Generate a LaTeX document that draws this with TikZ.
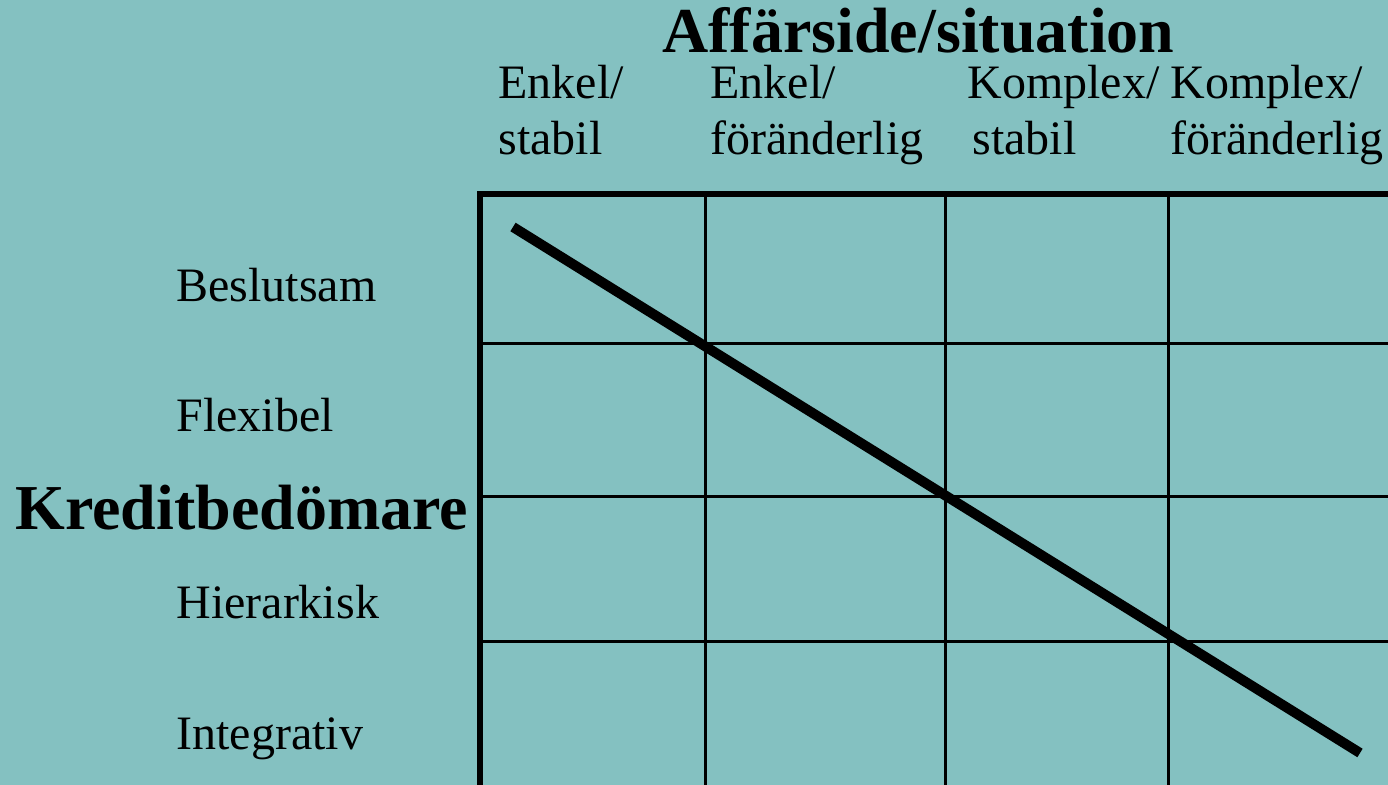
\documentclass[tikz,border=0pt]{standalone}
\usepackage{fontspec}
\setmainfont{Liberation Serif}
\definecolor{slidebg}{RGB}{132,193,193}

\begin{document}
\begin{tikzpicture}[
  x=0.5pt,y=-0.5pt,
  every node/.style={inner sep=0pt,anchor=base west,
    font=\fontsize{24}{28}\selectfont},
  axistitle/.style={font=\fontsize{32}{36}\selectfont\bfseries},
  collabel/.style={align=left},
  frame/.style={line width=3pt},
  gridline/.style={line width=1.5pt},
  trend/.style={line width=5pt}
]
  \fill[slidebg] (0,0) rectangle (1388,785);
  \useasboundingbox (0,0) rectangle (1388,785);

  % the matrix
  \begin{scope}
    \clip (0,0) rectangle (1388,785);
    \foreach \x in {705,945,1168}
      \draw[gridline] (\x,194) -- (\x,785);
    \foreach \y in {343.5,497,642}
      \draw[gridline] (480,\y) -- (1388,\y);
    \draw[frame] (480,790) -- (480,194.5) -- (1390,194.5);
  \end{scope}

  \coordinate (tstart) at (513,227);
  \coordinate (tend) at (1360,753);
  \draw[trend] (tstart) -- (tend);

  % column heads (base = last line)
  \node[axistitle] (affar) at (662,53) {Affärside/situation};
  \node[collabel] (es) at (498,155) {Enkel/\\stabil};
  \node[collabel] (ef) at (710,155) {Enkel/\\föränderlig};
  \node[collabel] (ks) at (967,155) {Komplex/\\\hspace*{2.5pt}stabil};
  \node[collabel] (kf) at (1170,155) {Komplex/\\föränderlig};

  % row heads
  \node[axistitle] (kredit) at (15,530) {Kreditbedömare};
  \node (beslut) at (176,302) {Beslutsam};
  \node (flex) at (176,432) {Flexibel};
  \node (hier) at (176,619) {Hierarkisk};
  \node (integ) at (176,750) {Integrativ};
\end{tikzpicture}
\end{document}
